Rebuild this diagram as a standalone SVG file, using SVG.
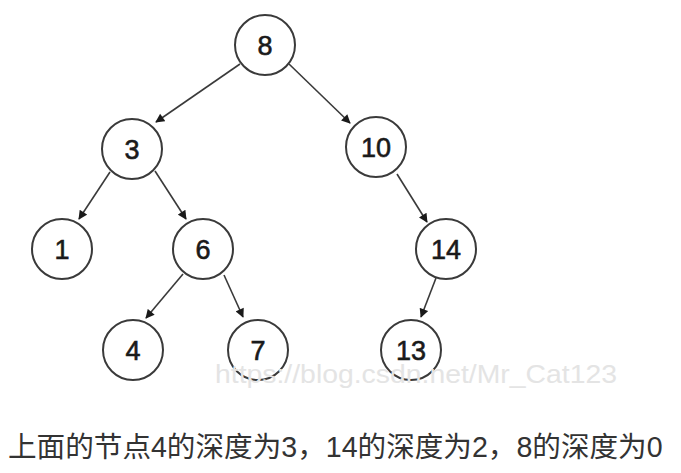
<svg xmlns="http://www.w3.org/2000/svg" width="681" height="473" viewBox="0 0 681 473">
<style>
.n circle{fill:#fff;stroke:#3a3a3a;stroke-width:2}
.n text{font-family:"Liberation Sans",Arial,sans-serif;font-size:27px;fill:#1a1a1a;stroke:#1a1a1a;stroke-width:0.6;text-anchor:middle}
.e line{stroke:#3a3a3a;stroke-width:1.6;marker-end:url(#ah)}
.wm{font-family:"Liberation Sans",Arial,sans-serif;font-size:26px;fill:#e4e4e4}
.cap{font-family:"Liberation Sans","Noto Sans CJK SC",sans-serif;font-size:28.6px;fill:#333}
</style>
<defs>
<marker id="ah" viewBox="0 0 10 10" refX="9" refY="5" markerWidth="10" markerHeight="9" markerUnits="userSpaceOnUse" orient="auto">
<path d="M0,0 L10,5 L0,10 z" fill="#1a1a1a"/>
</marker>
</defs>
<rect width="681" height="473" fill="#fff"/>
<g id="connectors" class="e">
<line x1="240" y1="64" x2="156" y2="122"/>
<line x1="289" y1="64" x2="350" y2="123"/>
<line x1="110" y1="172" x2="79" y2="219"/>
<line x1="155" y1="171" x2="186" y2="219"/>
<line x1="397" y1="174" x2="427" y2="222"/>
<line x1="183" y1="274" x2="146" y2="318"/>
<line x1="224" y1="275" x2="243" y2="317"/>
<line x1="436" y1="278" x2="421" y2="317"/>
</g>
<g id="n8" class="n"><circle cx="265" cy="45" r="30"/><text x="265" y="55">8</text></g>
<g id="n3" class="n"><circle cx="132" cy="149" r="30"/><text x="132" y="159">3</text></g>
<g id="n10" class="n"><circle cx="376" cy="147" r="30"/><text x="376" y="157">10</text></g>
<g id="n1" class="n"><circle cx="62" cy="249" r="30"/><text x="62" y="259">1</text></g>
<g id="n6" class="n"><circle cx="203" cy="249" r="30"/><text x="203" y="259">6</text></g>
<g id="n14" class="n"><circle cx="446" cy="249" r="30"/><text x="446" y="259">14</text></g>
<g id="n4" class="n"><circle cx="133" cy="350" r="30"/><text x="133" y="360">4</text></g>
<g id="n7" class="n"><circle cx="258" cy="350" r="30"/><text x="258" y="360">7</text></g>
<g id="n13" class="n"><circle cx="411" cy="350" r="30"/><text x="411" y="360">13</text></g>
<text class="wm" x="215" y="383" textLength="402" lengthAdjust="spacingAndGlyphs">https://blog.csdn.net/Mr_Cat123</text>
<text class="cap" x="8" y="457">上面的节点4的深度为3，14的深度为2，8的深度为0</text>
</svg>
